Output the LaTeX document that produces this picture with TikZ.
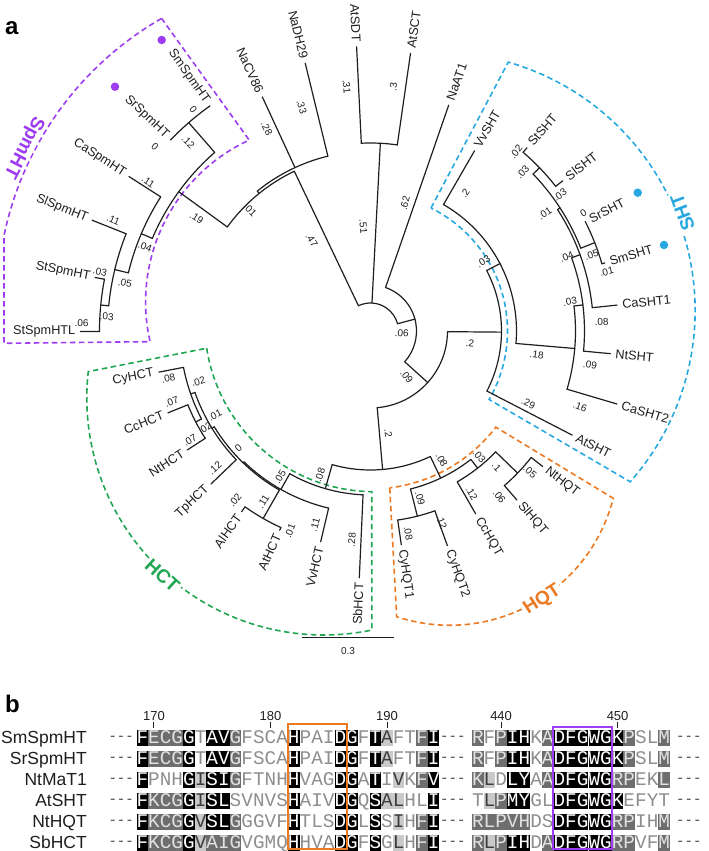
\documentclass[tikz,border=0pt]{standalone}
\usepackage{fontspec}
\setmainfont{Liberation Sans}
\newfontfamily\seqmono{Liberation Mono}
\usetikzlibrary{calc}
\definecolor{TreeInk}{HTML}{1E1E1E}
\definecolor{SpmPurple}{HTML}{9D3CF0}
\definecolor{ShtBlue}{HTML}{27A8E0}
\definecolor{HctGreen}{HTML}{20A552}
\definecolor{HqtOrange}{HTML}{EC7A23}
\definecolor{SeqDark}{HTML}{6E6E6E}
\definecolor{SeqDarkTxt}{HTML}{E2E2E2}
\definecolor{SeqLight}{HTML}{C9C9C9}
\definecolor{SeqLightTxt}{HTML}{3C3C3C}
\definecolor{SeqFaint}{HTML}{8E8E8E}
\tikzset{
  branch/.style={draw=TreeInk,line width=1.2pt,line cap=round},
  leaflab/.style={inner sep=0pt,font=\fontsize{12.7}{14}\selectfont,text=TreeInk},
  blab/.style={inner sep=0pt,font=\fontsize{10}{11}\selectfont,text=TreeInk},
  cladebox/.style={line width=1.6pt,dash pattern=on 5.5pt off 3.5pt},
  cladelab/.style={fill=white,inner sep=2pt,font=\bfseries\fontsize{19}{21}\selectfont},
  dot/.style={circle,inner sep=0pt,minimum size=8.5pt},
  panellab/.style={inner sep=0pt,anchor=base west,font=\bfseries\fontsize{24}{26}\selectfont},
  seqname/.style={inner sep=0pt,anchor=base east,font=\fontsize{17.5}{19}\selectfont,text=TreeInk},
  rulenum/.style={inner sep=0pt,font=\fontsize{13}{14}\selectfont,text=TreeInk},
  gap/.style={inner sep=0pt,font=\seqmono\fontsize{14}{14}\selectfont,text=TreeInk!85},
  cell/.style={rectangle,inner sep=0pt,outer sep=0pt,minimum width=11.64pt,minimum height=15.5pt,
    text height=10.5pt,text depth=0pt,font=\seqmono\fontsize{19.3}{19.3}\selectfont},
  cK/.style={fill=black,text=white},
  cD/.style={fill=SeqDark,text=SeqDarkTxt},
  cL/.style={fill=SeqLight,text=SeqLightTxt},
  cn/.style={text=SeqFaint},
  motif/.style={line width=2pt},
  scalebar/.style={draw=TreeInk,line width=1.4pt}
}
% radial branch: angle, inner radius, outer radius
\newcommand{\rbr}[3]{\draw[branch] (#1:#2) -- (#1:#3);}
% node arc: radius, from angle, to angle
\newcommand{\abr}[3]{\draw[branch] (#2:#1) arc[start angle=#2,end angle=#3,radius=#1];}
% leaf label: name, angle, tip radius, text
\newcommand{\leaf}[4]{%
  \pgfmathtruncatemacro{\lfside}{abs(#2)>90 ? 1 : 0}%
  \ifnum\lfside=1
    \node[leaflab,anchor=east,rotate=#2+180] (#1) at (#2:#3+5) {#4};
  \else
    \node[leaflab,anchor=west,rotate=#2] (#1) at (#2:#3+5) {#4};
  \fi}
% branch length: name, picture x, picture y, text
\newcommand{\blen}[4]{%
  \pgfmathsetmacro{\blx}{#2-370.5}%
  \pgfmathsetmacro{\bly}{331-#3}%
  \pgfmathsetmacro{\blphi}{atan2(\bly,\blx)}%
  \pgfmathsetmacro{\blrot}{\blphi>90 ? \blphi-180 : (\blphi<-90 ? \blphi+180 : \blphi)}%
  \node[blab,rotate=\blrot] (#1) at (\blx,\bly) {#4};}
% alignment block: name, first x, row y, residue/shade pairs
\newcommand{\seqblock}[4]{%
  \foreach \rch/\rcd [count=\rci] in {#4}
    \node[cell,c\rcd] (#1-\rci) at ({#2+(\rci-0.5)*11.65},#3) {\rch};}

\begin{document}
\begin{tikzpicture}[x=1pt,y=1pt]
  \useasboundingbox (-370.5,-520) rectangle (338.5,331);

  % clade boxes
  \draw[cladebox,SpmPurple] ($(-46.5,29)+(119.8:326.8)$) arc[start angle=119.8,end angle=168.3,radius=326.8]
    -- (-366.5,-12.3) -- ($(-46.5,29)+(192.85:178.4)$) arc[start angle=192.85,end angle=114.8,radius=178.4] -- cycle;
  \draw[cladebox,ShtBlue] (63.8:137) -- ($(66.1,20.5)+(73.9:258.5)$) arc[start angle=73.9,end angle=-41.5,radius=258.5]
    -- (-30:137) arc[start angle=-30,end angle=63.8,radius=137] -- cycle;
  \draw[cladebox,HctGreen] ($(3.6,8.7)+(-171.2:169.4)$) arc[start angle=-171.2,end angle=-90.8,radius=169.4]
    -- ($(-46.7,-67)+(-78.3:237)$) arc[start angle=-78.3,end angle=-186.4,radius=237] -- cycle;
  \draw[cladebox,HqtOrange] (-83:158) -- ($(79.3,-125.6)+(-108.35:168.7)$) arc[start angle=-108.35,end angle=-14.3,radius=168.7]
    -- (-37.5:158) arc[start angle=-37.5,end angle=-83,radius=158] -- cycle;

  % backbone
  \abr{28}{115.5}{15} \rbr{115.5}{28}{177} \rbr{87}{28}{188} \rbr{15}{28}{46}
  \abr{177}{144}{115.5} \rbr{144}{177}{237} \rbr{129}{177}{180}
  \abr{180}{129}{103.7} \rbr{114.8}{180}{258} \rbr{103.7}{180}{275.5}
  % SpmHT
  \abr{237}{131.1}{157} \rbr{131.1}{237}{276.5} \abr{276.5}{125.5}{136.3}
  \rbr{157}{237}{249} \abr{249}{147.4}{166.5} \rbr{147.4}{249}{286.7}
  \rbr{166.5}{249}{263} \abr{263}{158.3}{174.5} \rbr{158.3}{263}{299.6}
  \rbr{174.5}{263}{271} \abr{271}{169}{180.1} \rbr{169}{271}{280.5} \rbr{180.1}{271}{290}
  % AtSDT, AtSCT, NaAT1
  \abr{188}{92.8}{81.8} \rbr{92.8}{188}{284.6} \rbr{81.8}{188}{280.5}
  \abr{46}{70.9}{-42} \rbr{70.9}{46}{239} \rbr{-42}{46}{77}
  \abr{77}{-0.5}{-85}
  % SHT
  \rbr{-0.5}{77}{131} \abr{131}{27.5}{-27.3} \rbr{-27.3}{131}{227} \rbr{27.5}{131}{146}
  \abr{146}{60}{-4.9} \rbr{60}{146}{208} \rbr{-4.9}{146}{205}
  \abr{205}{7}{-16.5} \rbr{-16.5}{205}{257} \rbr{7}{205}{214}
  \abr{214}{20}{-5.4} \rbr{-5.4}{214}{241} \rbr{20}{214}{223}
  \abr{223}{33}{6} \rbr{6}{223}{248} \rbr{33}{223}{226}
  \abr{226}{44}{21.5} \rbr{44}{226}{235} \rbr{21.5}{226}{241}
  \abr{235}{49.5}{38} \rbr{49.5}{235}{241} \rbr{38}{235}{244}
  \abr{241}{27}{16.2} \rbr{16.2}{241}{244}
  % HQT
  \rbr{-85}{77}{139} \abr{139}{-64.5}{-106}
  \rbr{-64.5}{139}{163} \abr{163}{-52}{-75.8}
  \rbr{-75.8}{163}{191} \abr{191}{-70.3}{-81.8} \rbr{-81.8}{191}{216} \rbr{-70.3}{191}{228}
  \rbr{-52}{163}{174} \abr{174}{-44}{-60.1} \rbr{-60.1}{174}{211}
  \rbr{-44}{174}{204.5} \abr{204.5}{-38.2}{-49.1} \rbr{-38.2}{204.5}{219} \rbr{-49.1}{204.5}{223.5}
  % HCT
  \rbr{-106}{139}{164} \abr{164}{-92.6}{-119.5} \rbr{-92.6}{164}{247} \rbr{-119.5}{164}{182}
  \abr{182}{-103.3}{-134} \rbr{-103.3}{182}{216.5} \rbr{-134}{182}{183.3}
  \abr{183.3}{-119.8}{-148.5} \rbr{-119.8}{183.3}{216}
  \abr{216}{-114.5}{-125.5} \rbr{-114.5}{216}{219} \rbr{-125.5}{216}{222}
  \rbr{-148.5}{183.3}{186} \abr{186}{-136.2}{-160.7} \rbr{-136.2}{186}{221}
  \rbr{-160.7}{186}{190.5} \abr{190.5}{-152.5}{-169} \rbr{-169}{190.5}{215.6}
  \rbr{-152.5}{190.5}{197} \abr{197}{-147}{-158} \rbr{-147}{197}{218.5} \rbr{-158}{197}{218.5}

  % leaves
  \leaf{t-smspm}{125.5}{276.5}{SmSpmHT}
  \leaf{t-srspm}{136.3}{276.5}{SrSpmHT}
  \leaf{t-caspm}{147.4}{286.7}{CaSpmHT}
  \leaf{t-slspm}{158.3}{299.6}{SlSpmHT}
  \leaf{t-stspm}{169}{280.5}{StSpmHT}
  \leaf{t-stspml}{180.1}{290}{StSpmHTL}
  \leaf{t-nacv}{114.8}{258}{NaCV86}
  \leaf{t-nadh}{103.7}{275.5}{NaDH29}
  \leaf{t-atsdt}{92.8}{284.6}{AtSDT}
  \leaf{t-atsct}{81.8}{280.5}{AtSCT}
  \leaf{t-naat}{70.9}{239}{NaAT1}
  \leaf{t-vvsht}{60}{208}{VvSHT}
  \leaf{t-stsht}{49.5}{241}{StSHT}
  \leaf{t-slsht}{38}{244}{SlSHT}
  \leaf{t-srsht}{27}{241}{SrSHT}
  \leaf{t-smsht}{16.2}{244}{SmSHT}
  \leaf{t-casht1}{6}{248}{CaSHT1}
  \leaf{t-ntsht}{-5.4}{241}{NtSHT}
  \leaf{t-casht2}{-16.5}{257}{CaSHT2}
  \leaf{t-atsht}{-27.3}{227}{AtSHT}
  \leaf{t-nthqt}{-38.2}{219}{NtHQT}
  \leaf{t-slhqt}{-49.1}{223.5}{SlHQT}
  \leaf{t-cchqt}{-60.1}{211}{CcHQT}
  \leaf{t-cyhqt2}{-70.3}{228}{CyHQT2}
  \leaf{t-cyhqt1}{-81.8}{216}{CyHQT1}
  \leaf{t-sbhct}{-92.6}{247}{SbHCT}
  \leaf{t-vvhct}{-103.3}{216.5}{VvHCT}
  \leaf{t-athct}{-114.5}{219}{AtHCT}
  \leaf{t-alhct}{-125.5}{222}{AlHCT}
  \leaf{t-tphct}{-136.2}{221}{TpHCT}
  \leaf{t-nthct}{-147}{218.5}{NtHCT}
  \leaf{t-cchct}{-158}{218.5}{CcHCT}
  \leaf{t-cyhct}{-169}{215.6}{CyHCT}

  % branch lengths
  \blen{l-sm}{193.3}{110}{0}      \blen{l-sr}{155}{146.7}{0}
  \blen{l-smsr}{188.3}{141.7}{.12} \blen{l-ca}{148.3}{181.7}{.11}
  \blen{l-spm}{196.7}{218.3}{.19}  \blen{l-p1}{250}{210}{.01}
  \blen{l-cv}{266.7}{128.3}{.28}   \blen{l-dh}{301.7}{106.7}{.33}
  \blen{l-p0}{311.7}{240}{.47}     \blen{l-sl}{113.3}{220}{.11}
  \blen{l-q1}{145}{246.7}{.04}     \blen{l-st}{100}{271.7}{.03}
  \blen{l-q2}{125}{283.3}{.05}     \blen{l-stl}{81.7}{323.3}{.06}
  \blen{l-q3}{106.7}{316.7}{.03}
  \blen{l-sdt}{346.7}{86.7}{.31}   \blen{l-sct}{393.3}{86.7}{.3}
  \blen{l-at}{363.3}{226.7}{.51}   \blen{l-aat}{405}{203.3}{.62}
  \blen{l-n1}{401.7}{333.3}{.06}   \blen{l-n2}{406.7}{376.7}{.09}
  \blen{l-n4}{470}{343.3}{.2}      \blen{l-vv}{465}{193.3}{.2}
  \blen{l-n5}{483.3}{261.7}{.03}   \blen{l-n6}{536.7}{355}{.18}
  \blen{l-ats}{528.3}{403.3}{.29}  \blen{l-cas2}{580}{406.7}{.16}
  \blen{l-nts}{590}{365}{.09}      \blen{l-n6b}{570}{301.7}{.03}
  \blen{l-cas1}{601.7}{321.7}{.08} \blen{l-n7}{566.7}{256.7}{.04}
  \blen{l-n8}{545}{213.3}{.01}     \blen{l-n9}{522.7}{171.7}{.03}
  \blen{l-sts}{516}{151.7}{.02}    \blen{l-sls}{560}{195}{.03}
  \blen{l-srs}{583.3}{213.3}{0}    \blen{l-n10}{591.7}{255}{.05}
  \blen{l-sms}{606.7}{271.7}{.01}
  \blen{l-n3}{388.3}{433.3}{.2}    \blen{l-h0}{320}{475}{.08}
  \blen{l-sb}{351.7}{540}{.28}     \blen{l-h1}{280}{476.7}{.05}
  \blen{l-vvh}{315}{525}{.11}      \blen{l-alat}{263.3}{501.7}{.11}
  \blen{l-al}{235}{500}{.02}       \blen{l-ath}{290}{531}{.01}
  \blen{l-h2}{238.3}{448.3}{0}     \blen{l-tp}{215}{468.3}{.12}
  \blen{l-h3}{215}{415}{.01}       \blen{l-ccnt}{205}{428.3}{.02}
  \blen{l-h4}{198.3}{381.7}{.02}   \blen{l-cy}{168.3}{378.3}{.08}
  \blen{l-cc}{171.7}{401.7}{.07}   \blen{l-nth}{190}{440}{.07}
  \blen{l-q0}{441.7}{460}{.08}     \blen{l-q1h}{420}{498.3}{.09}
  \blen{l-cy1}{408.3}{533.3}{.08}  \blen{l-cy2}{441.7}{521.7}{.12}
  \blen{l-q2h}{479.3}{456}{.03}    \blen{l-q3h}{496.7}{466.7}{.1}
  \blen{l-cch}{471.7}{493.3}{.12}  \blen{l-nthq}{530}{471.7}{.05}
  \blen{l-slh}{499.3}{496.7}{.06}

  % marks and clade names
  \node[dot,fill=SpmPurple] (d-smspm) at (-208.8,291) {};
  \node[dot,fill=SpmPurple] (d-srspm) at (-255.5,244.3) {};
  \node[dot,fill=ShtBlue] (d-srsht) at (267.2,138.3) {};
  \node[dot,fill=ShtBlue] (d-smsht) at (293.5,86) {};
  \node[cladelab,text=SpmPurple,rotate=-117.5] (c-spm) at (-347,184) {SpmHT};
  \node[cladelab,text=ShtBlue,rotate=110.7] (c-sht) at (312,118.5) {SHT};
  \node[cladelab,text=HctGreen,rotate=-42.3] (c-hct) at (-208,-244.5) {HCT};
  \node[cladelab,text=HqtOrange,rotate=32.8] (c-hqt) at (172,-269) {HQT};

  % scale bar
  \coordinate (sbL) at (-68.8,-306.3);
  \coordinate (sbR) at (23.5,-306.3);
  \draw[scalebar] (sbL) -- (sbR);
  \node[blab] (sblab) at (-22.5,-320) {0.3};

  \node[panellab] (pa) at (-365.5,296) {a};
  \node[panellab] (pb) at (-365.5,-381) {b};

  % alignment, in picture pixels (y downwards)
  \begin{scope}[shift={(-370.5,331)},y=-1pt]
    \foreach \rx/\rn in {154/170,270.5/180,387/190,501.1/440,617.6/450}{
      \node[rulenum] (num\rn) at (\rx,716.5) {\rn};
      \draw[TreeInk,line width=1pt] (num\rn.south) ++(0,1) -- ++(0,5.5);
    }
    \foreach \nm [count=\rk] in {SmSpmHT,SrSpmHT,NtMaT1,AtSHT,NtHQT,SbHCT}{
      \node[seqname] (nm\rk) at (87,{738+21*(\rk-1)+5.5}) {\nm};
      \node[gap,anchor=east] (ga\rk) at (134,{738+21*(\rk-1)}) {-{}-{}-};
      \node[gap,anchor=west] (gb\rk) at (440,{738+21*(\rk-1)}) {-{}-{}-};
      \node[gap,anchor=west] (gc\rk) at (676,{738+21*(\rk-1)}) {-{}-{}-};
    }
    \seqblock{r1a}{136.5}{738}{F/K,E/D,C/D,G/D,G/K,T/n,A/K,V/K,G/D,F/n,S/n,C/n,A/n,H/K,P/n,A/n,I/n,D/K,G/K,F/n,T/K,A/L,F/n,T/n,F/D,I/K}
    \seqblock{r1b}{472}{738}{R/D,F/n,P/D,I/K,H/K,K/n,A/D,D/K,F/K,G/K,W/K,G/K,K/K,P/D,S/n,L/n,M/D}
    \seqblock{r2a}{136.5}{759}{F/K,E/D,C/D,G/D,G/K,T/n,A/K,V/K,G/D,F/n,S/n,C/n,A/n,H/K,P/n,A/n,I/n,D/K,G/K,F/n,T/K,A/L,F/n,T/n,F/D,I/K}
    \seqblock{r2b}{472}{759}{R/D,F/n,P/D,I/K,H/K,K/n,A/D,D/K,F/K,G/K,W/K,G/K,K/K,P/D,S/n,L/n,M/D}
    \seqblock{r3a}{136.5}{780}{F/K,P/n,N/n,H/n,G/K,I/L,S/K,I/K,G/D,F/n,T/n,N/n,H/n,H/K,V/n,A/n,G/n,D/K,G/K,A/n,T/K,I/n,V/L,K/n,F/D,V/K}
    \seqblock{r3b}{472}{780}{K/D,L/L,D/n,L/K,Y/K,A/n,A/D,D/K,F/K,G/K,W/K,G/K,R/D,P/D,E/n,K/n,L/D}
    \seqblock{r4a}{136.5}{801}{F/K,K/D,C/D,G/D,G/K,I/L,S/K,L/K,S/n,V/n,N/n,V/n,S/n,H/K,A/n,I/n,V/n,D/K,G/K,Q/n,S/K,A/L,L/L,H/n,L/n,I/K}
    \seqblock{r4b}{472}{801}{T/n,L/L,P/D,M/K,Y/K,G/n,L/n,D/K,F/K,G/K,W/K,G/K,K/K,E/n,F/n,Y/n,T/n}
    \seqblock{r5a}{136.5}{822}{F/K,K/D,C/D,G/D,G/K,V/L,S/K,L/K,G/D,G/n,G/n,V/n,F/n,H/K,T/n,L/n,S/n,D/K,G/K,L/n,S/K,S/n,I/L,H/n,F/D,I/K}
    \seqblock{r5b}{472}{822}{R/D,L/D,P/D,V/D,H/D,D/n,S/n,D/K,F/K,G/K,W/K,G/K,R/D,P/D,I/n,H/n,M/D}
    \seqblock{r6a}{136.5}{843}{F/K,K/D,C/D,G/D,G/K,V/L,A/D,I/D,G/D,V/n,G/n,M/n,Q/n,H/K,H/n,V/n,A/n,D/K,G/K,F/n,S/K,G/n,L/L,H/n,F/D,I/K}
    \seqblock{r6b}{472}{843}{R/D,L/L,P/D,I/K,H/K,D/n,A/D,D/K,F/K,G/K,W/K,G/K,R/D,P/D,V/n,F/n,M/D}
    \draw[motif,HqtOrange] (288,723.5) rectangle (346.7,848.5);
    \draw[motif,SpmPurple] (553.3,726.5) rectangle (611.8,849);
  \end{scope}
\end{tikzpicture}
\end{document}
